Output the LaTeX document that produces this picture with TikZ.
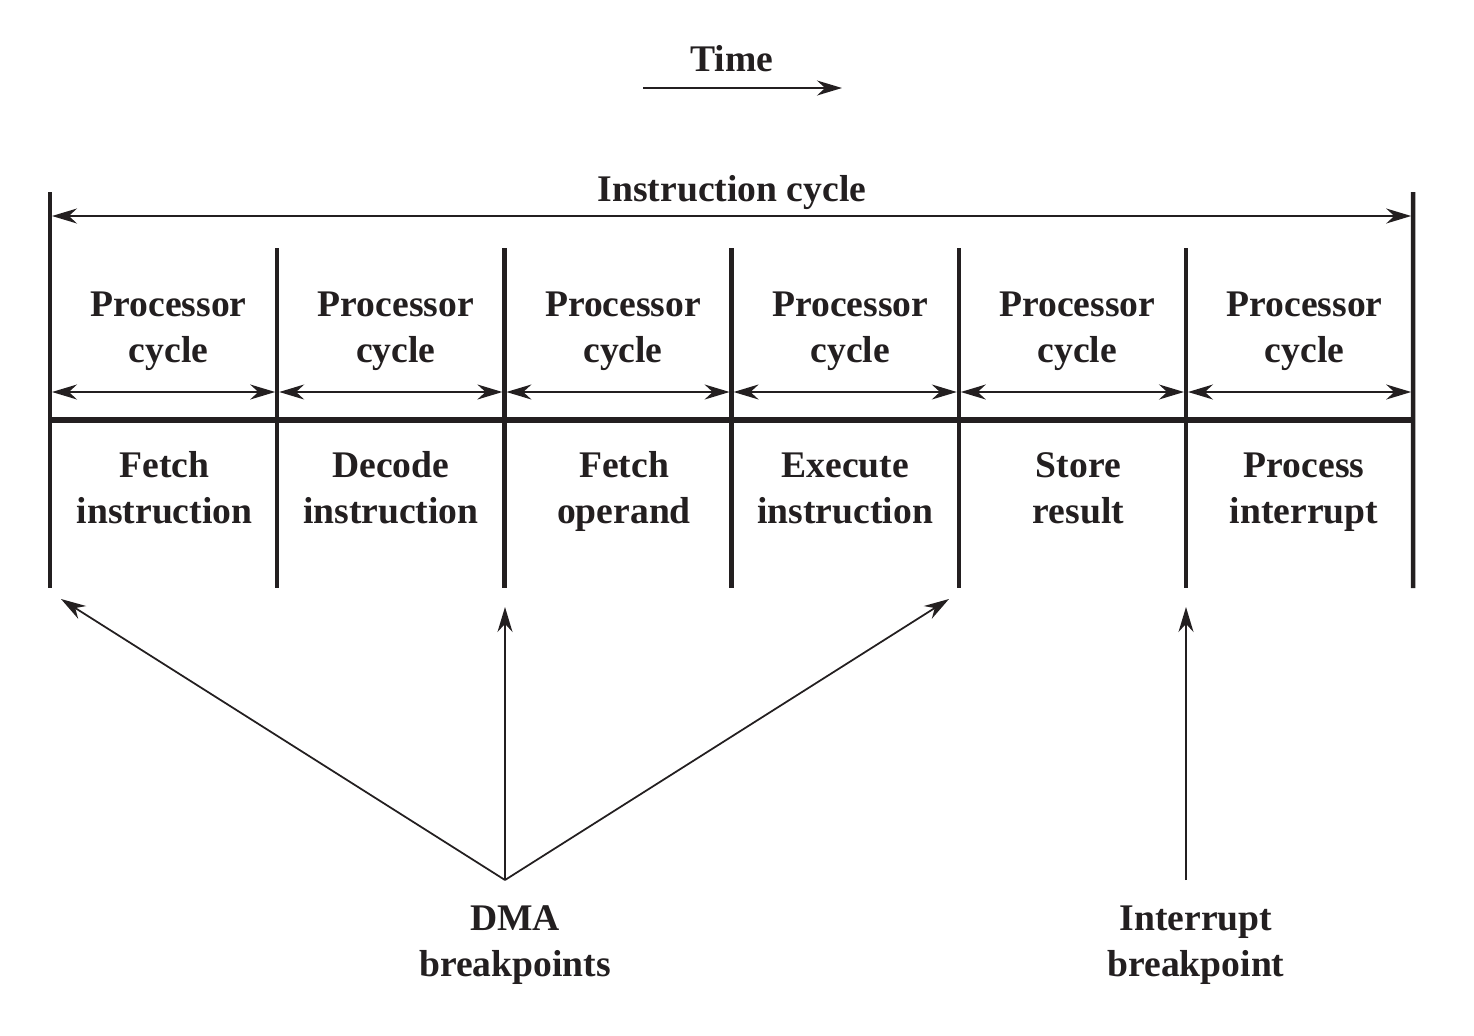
\documentclass[tikz,border=0pt]{standalone}
\usepackage{fontspec}
\setmainfont{Liberation Serif}
\usepackage{tikz}
\usetikzlibrary{arrows.meta,positioning,calc}
\usepackage{xcolor}
\definecolor{ink}{RGB}{35,31,32}

\newcommand{\twolines}[2]{#1\strut\\#2\strut}

\begin{document}
\begin{tikzpicture}[
  label_node/.style={rectangle, draw=none, text=ink, align=center, inner sep=0pt,
                     font=\fontsize{10.7}{13.1}\selectfont\bfseries},
  arrow/.style={-{Stealth[length=0.25cm, width=0.15cm]}, ink, line width=0.5pt},
  dblarrow/.style={{Stealth[length=0.25cm, width=0.15cm]}-{Stealth[length=0.25cm, width=0.15cm]},
                   ink, line width=0.5pt, shorten <=0.02cm, shorten >=0.02cm},
  bar/.style={ink, line width=1.3pt}
]
\useasboundingbox (0,0) rectangle (14.74,-10.36);

% Row y-positions
\def\yTop{-2.48}
\def\yPc{-3.92}
\def\yBot{-5.88}
\def\dx{2.272}

% Column coordinates
\foreach \i in {0,...,6}{
  \pgfmathsetmacro{\xx}{0.50+\i*\dx}
  \coordinate (T\i) at (\xx,\yTop);
  \coordinate (P\i) at (\xx,\yPc);
  \coordinate (B\i) at (\xx,\yBot);
}
\coordinate (IC0) at (0.50,-1.92);
\coordinate (IC6) at (14.132,-1.92);
\coordinate (ICa0) at (0.50,-2.16);
\coordinate (ICa6) at (14.132,-2.16);

% Time
\node[label_node, anchor=base] (time) at (7.32,-0.71) {Time};
\coordinate (t0) at (6.43,-0.88);
\coordinate (t1) at (8.42,-0.88);
\draw[arrow] (t0) -- (t1);

% Instruction cycle
\node[label_node, anchor=base] (icycle) at (7.32,-2.01) {Instruction cycle};
\draw[dblarrow] (ICa0) -- (ICa6);

% Column lines
\draw[bar] (IC0) -- (B0);
\draw[bar] (IC6) -- (B6);
\foreach \i in {1,...,5}{
  \draw[bar] (T\i) -- (B\i);
}
\draw[bar, line width=1.6pt] ($(T0)!0.5!(B0)+(0,-0.02)$) coordinate (M0)
  -- ($(T6)!0.5!(B6)+(0,-0.02)$) coordinate (M6);

% Processor cycles
\foreach \i [evaluate=\i as \j using int(\i+1)] in {0,...,5}{
  \draw[dblarrow] (P\i) -- (P\j);
  \node[label_node] (pc\i) at ($(P\i)!0.5!(P\j)+(0.05,0.62)$) {\twolines{Processor}{cycle}};
}

% Stage labels
\foreach \i/\dd/\ta/\tb in {0/0.01/Fetch/instruction, 1/0/Decode/instruction,
                            2/0.06/Fetch/operand, 3/0/Execute/instruction,
                            4/0.06/Store/result, 5/0.045/Process/interrupt}{
  \pgfmathsetmacro{\xx}{0.50+(\i+0.5)*\dx+\dd}
  \node[label_node] (st\i) at (\xx,-4.91) {\twolines{\ta}{\tb}};
}

% Breakpoints
\node[label_node] (dma) at (5.15,-9.44) {\twolines{DMA}{breakpoints}};
\node[label_node] (intr) at (11.96,-9.44) {\twolines{Interrupt}{breakpoint}};
\coordinate (dmaApex) at (5.05,-8.80);
\coordinate (intApex) at (11.86,-8.80);
\coordinate (dmaL) at (0.61,-5.99);
\coordinate (dmaM) at (5.05,-6.07);
\coordinate (dmaR) at (9.49,-5.99);
\coordinate (intTip) at (11.86,-6.07);
\draw[arrow] (dmaApex) -- (dmaL);
\draw[arrow] (dmaApex) -- (dmaM);
\draw[arrow] (dmaApex) -- (dmaR);
\draw[arrow] (intApex) -- (intTip);

\end{tikzpicture}
\end{document}
